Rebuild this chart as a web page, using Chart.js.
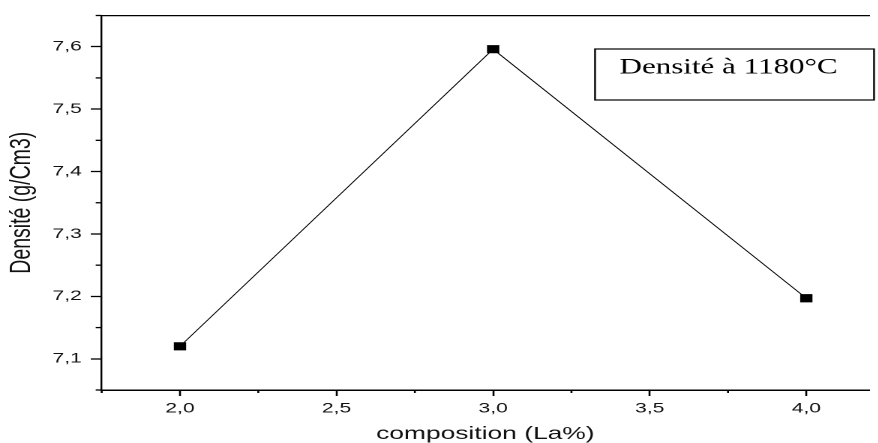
<!DOCTYPE html>
<html>
<head>
<meta charset="utf-8">
<script src="https://cdn.jsdelivr.net/npm/chart.js@4/dist/chart.umd.min.js"></script>
<style>
  html, body { margin: 0; padding: 0; background: #fff; overflow: hidden; }
  /* the plot is laid out on a narrower canvas and widened 1.5x */
  #wrap { position: absolute; left: 0; top: 0; width: 585.33px; height: 443px;
          transform: scaleX(1.5); transform-origin: 0 0; }
</style>
</head>
<body>
<div id="wrap"><canvas id="c"></canvas></div>
<script>
// Density of the samples versus lanthanum content
const compositions = [2.0, 3.0, 4.0];
const densities = [7.12, 7.596, 7.197];
const seriesLabel = 'Densité à 1180°C';

const xTickValues = [2.0, 2.5, 3.0, 3.5, 4.0];
const xTickLabels = ['2,0', '2,5', '3,0', '3,5', '4,0'];
const xMinorTicks = [1.75, 2.25, 2.75, 3.25, 3.75];

const yTickValues = [7.1, 7.2, 7.3, 7.4, 7.5, 7.6];
const yTickLabels = ['7,1', '7,2', '7,3', '7,4', '7,5', '7,6'];
const yMinorTicks = [7.05, 7.15, 7.25, 7.35, 7.45, 7.55, 7.65];

const SANS = "'Liberation Sans', Arial, sans-serif";
const SERIF = "'Liberation Serif', 'Times New Roman', serif";

// short unlabeled ticks between the labeled ones
const minorTicks = {
  id: 'minorTicks',
  afterDraw(chart) {
    const { ctx, scales: { x, y } } = chart;
    ctx.save();
    ctx.strokeStyle = '#000';
    ctx.lineWidth = 1.3;
    xMinorTicks.forEach(v => {
      const px = x.getPixelForValue(v);
      ctx.beginPath(); ctx.moveTo(px, x.top); ctx.lineTo(px, x.top + 3); ctx.stroke();
    });
    yMinorTicks.forEach(v => {
      const py = y.getPixelForValue(v);
      ctx.beginPath(); ctx.moveTo(y.right, py); ctx.lineTo(y.right - 4, py); ctx.stroke();
    });
    ctx.restore();
  }
};

// framed caption naming the series
const captionBox = {
  id: 'captionBox',
  afterDraw(chart) {
    const { ctx } = chart;
    const bx = 396.7, by = 49, bw = 186, bh = 51;
    ctx.save();
    ctx.fillStyle = '#fff';
    ctx.fillRect(bx, by, bw, bh);
    ctx.strokeStyle = '#000';
    ctx.lineWidth = 1.2;
    ctx.strokeRect(bx, by, bw, bh);
    ctx.fillStyle = '#000';
    ctx.font = '22.5px ' + SERIF;
    ctx.textAlign = 'left';
    ctx.textBaseline = 'alphabetic';
    ctx.translate(413, 73.5);
    ctx.scale(0.92, 1);
    ctx.fillText(chart.data.datasets[0].label, 0, 0);
    ctx.restore();
  }
};

new Chart(document.getElementById('c'), {
  type: 'line',
  data: {
    datasets: [{
      label: seriesLabel,
      data: compositions.map((c, i) => ({ x: c, y: densities[i] })),
      borderColor: '#000',
      borderWidth: 0.8,
      pointStyle: 'rect',
      pointRadius: 5.3,
      pointBorderWidth: 0.7,
      pointBackgroundColor: '#000',
      pointBorderColor: '#000',
      tension: 0,
      fill: false
    }]
  },
  options: {
    responsive: true,
    maintainAspectRatio: false,
    devicePixelRatio: 2,
    animation: false,
    layout: { padding: { top: 15.5, left: 0, right: 0, bottom: 0 } },
    plugins: { legend: { display: false }, tooltip: { enabled: false } },
    scales: {
      x: {
        type: 'linear',
        position: 'bottom',
        min: 1.75, max: 4.2,
        afterBuildTicks: s => { s.ticks = xTickValues.map(v => ({ value: v })); },
        afterFit: s => { s.height = 53; },
        ticks: {
          color: '#111',
          font: { family: SANS, size: 14 },
          padding: 4,
          maxRotation: 0,
          autoSkip: false,
          callback: (v, i) => xTickLabels[i]
        },
        grid: { display: true, drawOnChartArea: false, drawTicks: true, tickLength: 6, tickColor: '#000', tickWidth: 1.3 },
        border: { display: true, color: '#000', width: 1.5 },
        title: {
          display: true,
          text: 'composition (La%)',
          color: '#111',
          font: { family: SANS, size: 17.6, lineHeight: 1.0 },
          padding: { top: 0, bottom: 0 }
        }
      },
      xTop: {
        type: 'linear',
        position: 'top',
        min: 1.75, max: 4.2,
        afterFit: s => { s.height = 0; },
        ticks: { display: false },
        grid: { display: false, drawTicks: false },
        border: { display: true, color: '#000', width: 1.3 }
      },
      y: {
        type: 'linear',
        position: 'left',
        min: 7.05, max: 7.65,
        afterBuildTicks: s => { s.ticks = yTickValues.map(v => ({ value: v })); },
        afterFit: s => { s.width = 67.8; },
        ticks: {
          color: '#111',
          font: { family: SANS, size: 14 },
          padding: 6,
          autoSkip: false,
          callback: (v, i) => yTickLabels[i]
        },
        grid: { display: true, drawOnChartArea: false, drawTicks: true, tickLength: 7.3, tickColor: '#000', tickWidth: 1.3 },
        border: { display: true, color: '#000', width: 1.2 },
        title: {
          display: true,
          text: 'Densité (g/Cm3)',
          color: '#111',
          font: { family: SANS, size: 19.5 },
          padding: { top: 3, bottom: 0 }
        }
      }
    }
  },
  plugins: [minorTicks, captionBox]
});
</script>
</body>
</html>
